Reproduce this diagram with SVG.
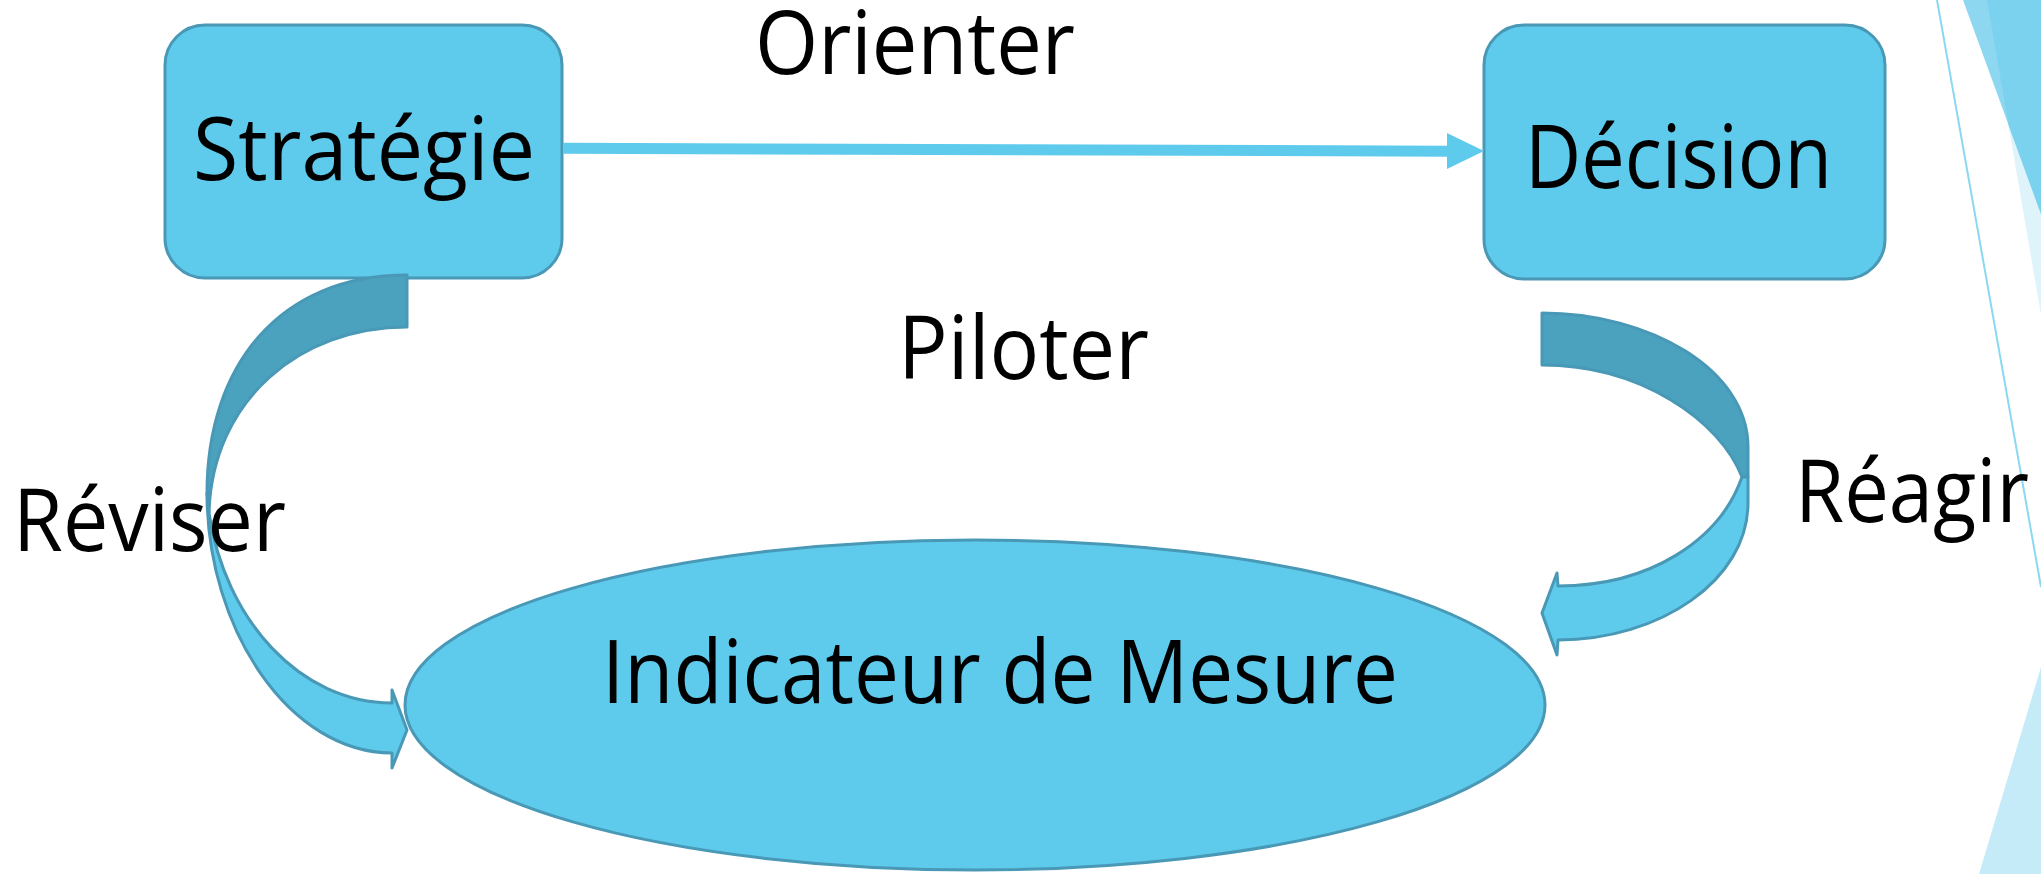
<svg xmlns="http://www.w3.org/2000/svg" width="2041" height="874" viewBox="0 0 2041 874">
  <style>
    .node { fill: #5ecbed; stroke: #4898b6; stroke-width: 3; }
    .band-back { fill: #4ba2bf; stroke: #4898b6; stroke-width: 3; stroke-linejoin: round; }
    .band-front { fill: #5ecbed; stroke: #4898b6; stroke-width: 3; stroke-linejoin: round; }
    .label { font-family: "Open Sans", "Liberation Sans", sans-serif; font-size: 87px; fill: #000000; }
  </style>

  <rect x="0" y="0" width="2041" height="874" fill="#ffffff"/>

  <!-- theme decoration along the right edge -->
  <g id="decoration">
    <polygon points="1987,0 2041,0 2041,315" fill="#dff3fb"/>
    <polygon points="1963,0 2041,0 2041,214" fill="#8ed7f1"/>
    <polygon points="1987,0 2041,0 2041,214 2008.5,125" fill="#7bd2ef"/>
    <line x1="1937" y1="0" x2="2041" y2="587" stroke="#8ad8f2" stroke-width="2"/>
    <polygon points="2041,667 2041,874 1979,874" fill="#c5ebf9"/>
  </g>

  <!-- nodes -->
  <g id="node-strategie">
    <rect class="node" x="165" y="25" width="397" height="253" rx="40" ry="40"/>
    <text class="label" x="193" y="180" textLength="342" lengthAdjust="spacingAndGlyphs">Stratégie</text>
  </g>
  <g id="node-decision">
    <rect class="node" x="1484" y="25" width="401" height="254" rx="40" ry="40"/>
    <text class="label" x="1525" y="188" textLength="307" lengthAdjust="spacingAndGlyphs">Décision</text>
  </g>
  <g id="node-indicateur">
    <ellipse class="node" cx="975" cy="705" rx="570" ry="165"/>
    <text class="label" x="602" y="703" textLength="796" lengthAdjust="spacingAndGlyphs">Indicateur de Mesure</text>
  </g>

  <!-- connectors -->
  <g id="connectors">
    <!-- Stratégie to Décision -->
    <path d="M563,148.3 L1449,151.2" stroke="#5ecbed" stroke-width="11" fill="none"/>
    <polygon points="1447,133 1484,151 1447,169" fill="#5ecbed"/>

    <!-- curved arrow from Stratégie down to the ellipse -->
    <path class="band-back" d="M407,275 C280,275 207,365 207,493 L209,513 C212,400 300,327 407,327 Z"/>
    <path class="band-front" d="M207,493 C207,630 290,753 392,753 L392,768 L407,730 L392,690 L392,703 C300,703 225,620 209,513 Z"/>

    <!-- curved arrow from Décision down to the ellipse -->
    <path class="band-back" d="M1542,313 C1650,313 1748,370 1748,447 L1748,477 L1742,477 C1720,420 1640,365 1542,365 Z"/>
    <path class="band-front" d="M1742,477 L1748,477 L1748,503 C1748,580 1660,640 1558,640 L1557,655 L1542,613 L1557,573 L1558,586 C1650,586 1720,540 1742,477 Z"/>
  </g>

  <!-- edge labels -->
  <g id="labels">
    <text class="label" x="755" y="74" textLength="320" lengthAdjust="spacingAndGlyphs">Orienter</text>
    <text class="label" x="898" y="379" textLength="251" lengthAdjust="spacingAndGlyphs">Piloter</text>
    <text class="label" x="13" y="551" textLength="273" lengthAdjust="spacingAndGlyphs">Réviser</text>
    <text class="label" x="1795" y="522" textLength="234" lengthAdjust="spacingAndGlyphs">Réagir</text>
  </g>
</svg>
